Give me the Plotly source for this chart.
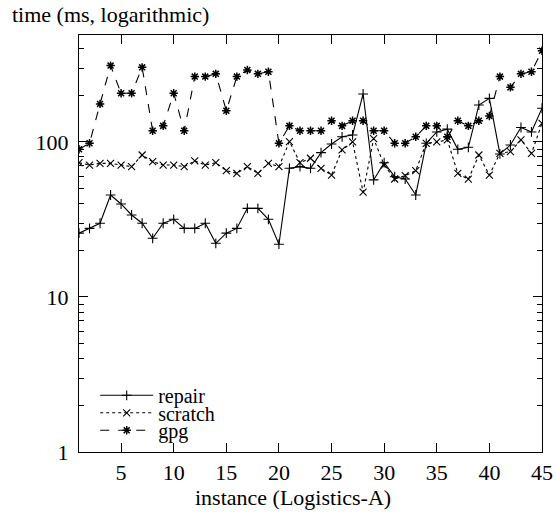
import plotly.graph_objects as go

instances = list(range(1, 46))

repair = [25.8, 27.7, 29.9, 45.5, 39.8, 33.8, 29.9, 23.9, 29.9, 31.7,
          27.7, 27.7, 29.9, 22.2, 25.8, 27.7, 37.3, 37.3, 31.7, 21.9,
          67.6, 69.3, 67.6, 85.3, 97, 108, 111, 204, 56.9, 73.5,
          59.7, 57.7, 45.5, 98, 116, 121, 89.7, 92.4, 173, 191,
          83.7, 95.6, 124, 116, 165]

scratch = [73.5, 71, 72.8, 72.8, 71, 69.3, 82.4, 74.6, 71, 71,
           69.3, 75.4, 71, 73.5, 65.3, 62.8, 69.3, 62.8, 72.8, 69.3,
           100.5, 73.5, 78.5, 67.6, 61.2, 88.8, 100, 47.4, 105, 71,
           57.7, 60.6, 65.3, 98, 100, 103, 62.8, 57.5, 82.4, 61.2,
           84.5, 86.6, 103, 84.5, 132]

gpg = [89.7, 98, 176, 311, 206, 206, 303, 118, 127, 206,
       118, 264, 264, 275, 159, 264, 291, 275, 284, 98,
       127, 118, 118, 118, 137, 127, 137, 137, 118, 118,
       98, 98, 108, 127, 127, 108, 137, 127, 137, 147,
       264, 225, 275, 284, 388]

x_ticks = [5, 10, 15, 20, 25, 30, 35, 40, 45]
y_ticks = [1, 10, 100]
y_minor = [2, 3, 4, 5, 6, 7, 8, 9, 20, 30, 40, 50, 60, 70, 80, 90, 200, 300, 400]

FONT = "Times New Roman, Liberation Serif, serif"
FS = 22

fig = go.Figure()
fig.add_trace(go.Scatter(
    x=instances, y=repair, name="repair", mode="lines+markers", legend="legend",
    line=dict(color="black", width=1.1, dash="solid"),
    marker=dict(symbol="cross-thin", size=7, line=dict(color="black", width=1.1)),
))
fig.add_trace(go.Scatter(
    x=instances, y=scratch, name="scratch", mode="lines+markers", legend="legend2",
    line=dict(color="black", width=1.1, dash="dot"),
    marker=dict(symbol="x-thin", size=7, line=dict(color="black", width=1.1)),
))
fig.add_trace(go.Scatter(
    x=instances, y=gpg, name="gpg", mode="lines+markers", legend="legend3",
    line=dict(color="black", width=1.1, dash="dash"),
    marker=dict(symbol="asterisk-open", size=7, line=dict(color="black", width=1.5)),
))

leg_common = dict(x=0.035, xanchor="left", yanchor="middle",
                  bgcolor="rgba(0,0,0,0)", font=dict(family=FONT, size=20),
                  itemwidth=53)

fig.update_layout(
    width=556, height=515,
    margin=dict(l=79, r=14, t=35, b=63, autoexpand=False),
    paper_bgcolor="white", plot_bgcolor="white",
    font=dict(family=FONT, size=FS, color="black"),
    showlegend=True,
    legend=dict(y=0.136, **leg_common),
    legend2=dict(y=0.094, **leg_common),
    legend3=dict(y=0.052, **leg_common),
    annotations=[
        dict(text="time (ms, logarithmic)", xref="paper", yref="paper",
             x=-0.150, y=1.050, xanchor="left", yanchor="middle",
             showarrow=False, font=dict(family=FONT, size=FS)),
        dict(text="instance (Logistics-A)", xref="paper", yref="paper",
             x=0.462, y=-0.108, xanchor="center", yanchor="middle",
             showarrow=False, font=dict(family=FONT, size=FS)),
    ],
)

fig.update_xaxes(
    range=[1, 45], tickvals=x_ticks, ticks="inside", ticklen=9,
    tickcolor="black", mirror="ticks", showline=True, linecolor="black",
    linewidth=1.2, showgrid=False, zeroline=False, automargin=False,
    tickfont=dict(family=FONT, size=FS),
)
fig.update_yaxes(
    type="log", range=[0, 2.69], tickvals=y_ticks, ticktext=["1", "10", "100"],
    ticks="inside", ticklen=9, tickcolor="black", mirror="ticks",
    showline=True, linecolor="black", linewidth=1.2, showgrid=False,
    zeroline=False, automargin=False, tickfont=dict(family=FONT, size=FS),
    ticklabelstandoff=5,
    minor=dict(tickvals=y_minor, ticks="inside", ticklen=5, tickcolor="black", showgrid=False),
)

fig.write_html("out.html", config={"displayModeBar": False},
               post_script="document.body.style.margin='0';")
